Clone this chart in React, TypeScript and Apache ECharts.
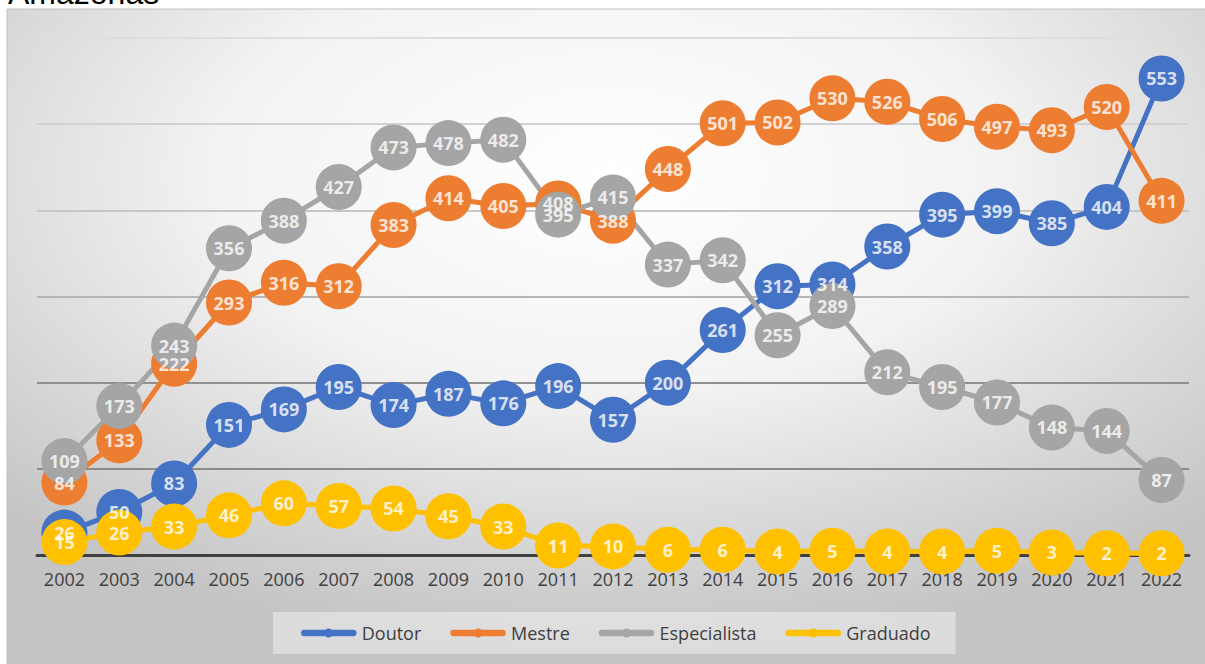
import React, { useEffect, useRef } from "react";
import * as echarts from "echarts";

const years = ["2002","2003","2004","2005","2006","2007","2008","2009","2010","2011","2012","2013","2014","2015","2016","2017","2018","2019","2020","2021","2022"];
const doutor = [26, 50, 83, 151, 169, 195, 174, 187, 176, 196, 157, 200, 261, 312, 314, 358, 395, 399, 385, 404, 553];
const mestre = [84, 133, 222, 293, 316, 312, 383, 414, 405, 408, 388, 448, 501, 502, 530, 526, 506, 497, 493, 520, 411];
const especialista = [109, 173, 243, 356, 388, 427, 473, 478, 482, 395, 415, 337, 342, 255, 289, 212, 195, 177, 148, 144, 87];
const graduado = [15, 26, 33, 46, 60, 57, 54, 45, 33, 11, 10, 6, 6, 4, 5, 4, 4, 5, 3, 2, 2];

const seriesNames = ["Doutor", "Mestre", "Especialista", "Graduado"];
const seriesColors = ["#4472C4", "#ED7D31", "#A5A5A5", "#FFC000"];
const seriesData = [doutor, mestre, especialista, graduado];

const FONT = "'Open Sans', 'Noto Sans', sans-serif";
const LEGEND_ICON =
  "path://M3.5,1.25 L52.5,1.25 A3.25,3.25 0 0 1 52.5,7.75 L3.5,7.75 A3.25,3.25 0 0 1 3.5,1.25 Z M23.5,4.5 A4.5,4.5 0 0 1 32.5,4.5 A4.5,4.5 0 0 1 23.5,4.5 Z";

export default function App() {
  const ref = useRef<HTMLDivElement>(null);
  useEffect(() => {
    if (!ref.current) return;
    const chart = echarts.init(ref.current, null, { renderer: "svg" });
    const lineSeries = seriesNames.map((name, i) => ({
      name,
      type: "line",
      data: seriesData[i],
      z: 2,
      symbol: "circle",
      symbolSize: 46,
      showAllSymbol: true,
      lineStyle: { color: seriesColors[i], width: 5 },
      itemStyle: { color: seriesColors[i] },
      label: { show: false },
      emphasis: { disabled: true },
    }));
    const labelSeries = seriesNames.map((name, i) => ({
      name: name + " (rótulo)",
      type: "scatter",
      data: seriesData[i],
      z: 10,
      symbolSize: 1,
      itemStyle: { color: "rgba(0,0,0,0)" },
      label: {
        show: true,
        position: "inside",
        color: "#ffffff",
        fontFamily: FONT,
        fontWeight: "bold",
        fontSize: 18,
      },
      emphasis: { disabled: true },
      silent: true,
    }));
    chart.setOption({
      animation: false,
      graphic: [
        {
          type: "rect",
          z: -10,
          shape: { x: 7, y: 9, width: 1205, height: 660 },
          style: {
            fill: new echarts.graphic.RadialGradient(0.5, 0.25, 0.72, [
              { offset: 0, color: "#ffffff" },
              { offset: 0.45, color: "#f3f3f3" },
              { offset: 0.75, color: "#d9d9d9" },
              { offset: 1, color: "#c4c4c4" },
            ]),
            stroke: "#c0c0c0",
            lineWidth: 1,
          },
        },
        {
          type: "text",
          z: 5,
          x: 8,
          y: -7,
          style: {
            text: "Amazonas",
            font: "32px 'Liberation Sans', Arial, sans-serif",
            fill: "#000000",
            textVerticalAlign: "middle",
          },
        },
      ],
      grid: { left: 37, right: 16, top: 38, bottom: 109, containLabel: false },
      xAxis: {
        type: "category",
        data: years,
        boundaryGap: true,
        axisLine: { show: true, lineStyle: { color: "#404040", width: 3 } },
        axisTick: { show: false },
        axisLabel: { color: "#404040", fontFamily: FONT, fontSize: 18, margin: 15 },
        splitLine: { show: false },
      },
      yAxis: {
        type: "value",
        min: 0,
        max: 600,
        interval: 100,
        axisLine: { show: false },
        axisTick: { show: false },
        axisLabel: { show: false },
        splitLine: {
          show: true,
          lineStyle: {
            width: 2,
            color: ["#404040", "#8a8a8a", "#909090", "#b6b6b6", "#c6c6c6", "#d2d2d2", "#dedede"],
          },
        },
      },
      legend: {
        data: seriesNames.map((n) => ({ name: n, icon: LEGEND_ICON })),
        left: 273,
        top: 612,
        backgroundColor: "rgba(240,240,240,0.55)",
        padding: [12, 25, 12, 28],
        itemWidth: 56,
        itemHeight: 9,
        itemGap: 29,
        textStyle: { color: "#404040", fontFamily: FONT, fontSize: 18 },
        selectedMode: false,
      },
      series: [...lineSeries, ...labelSeries],
    });
    return () => chart.dispose();
  }, []);
  return (
    <div
      ref={ref}
      style={{ position: "fixed", left: 0, top: 0, width: 1205, height: 664, background: "#ffffff" }}
    />
  );
}
